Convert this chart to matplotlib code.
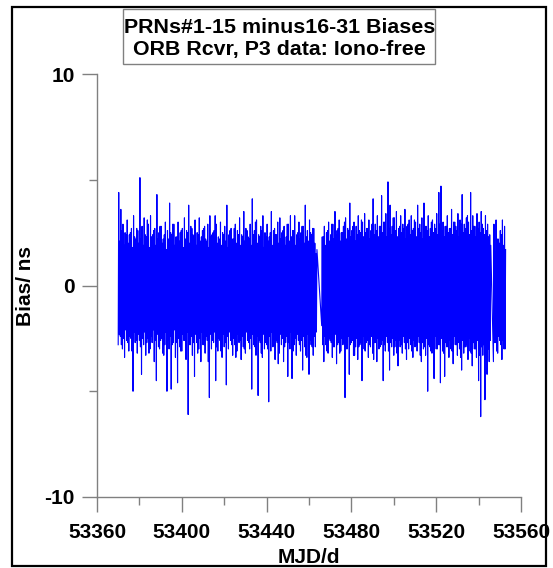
import numpy as np
import matplotlib
matplotlib.use("Agg")
import matplotlib.pyplot as plt
from matplotlib.patches import Rectangle

plt.rcParams['font.family'] = ['Liberation Sans', 'DejaVu Sans']
plt.rcParams['font.weight'] = 'bold'
plt.rcParams['axes.unicode_minus'] = False
plt.rcParams['path.simplify'] = False

# bias peaks (ns): two up/down swings per day
# segment A: MJD 53370 .. 53463
seg_a_start = 53370
seg_a_hi = [4.4, 3.6, 2.9, 2.5, 3.1, 2.4, 2.7, 3.3, 2.2, 2.6,
            5.1, 2.8, 3.2, 2.3, 2.9, 3.3, 2.4, 2.7, 4.3, 2.5,
            2.8, 2.2, 3.0, 2.6, 3.9, 2.4, 2.9, 2.3, 3.0, 2.5,
            2.7, 3.2, 2.6, 3.8, 2.8, 2.4, 3.1, 2.5, 3.2, 2.3,
            2.7, 2.2, 2.9, 3.3, 2.4, 2.6, 2.9, 2.3, 3.0, 2.5,
            2.8, 3.8, 2.4, 2.7, 2.2, 2.9, 2.6, 3.2, 2.4, 3.5,
            2.7, 2.3, 2.9, 4.1, 2.6, 3.1, 2.4, 2.8, 3.3, 2.5,
            2.9, 2.3, 3.5, 2.6, 2.4, 3.0, 3.2, 2.5, 2.8, 2.3,
            2.9, 3.3, 2.6, 3.3, 2.4, 3.0, 2.5, 2.8, 3.8, 2.6,
            3.1, 2.4, 2.7, 1.5]
seg_a_lo = [-2.8, -2.4, -3.0, -3.4, -2.6, -3.1, -2.5, -5.0, -2.7, -3.2,
            -2.6, -4.2, -2.8, -3.3, -2.5, -3.0, -2.7, -3.6, -4.5, -2.9,
            -2.6, -3.2, -2.8, -5.0, -3.0, -4.9, -2.7, -3.4, -4.6, -2.9,
            -3.1, -2.6, -3.5, -6.1, -2.8, -3.3, -4.3, -2.7, -3.0, -3.6,
            -2.8, -3.2, -2.6, -5.3, -3.0, -2.7, -4.5, -3.1, -2.6, -3.4,
            -2.9, -4.7, -3.0, -2.6, -3.3, -2.8, -3.1, -2.7, -3.5, -2.9,
            -3.2, -2.6, -3.0, -4.9, -2.8, -3.3, -5.2, -2.7, -3.4, -3.0,
            -2.8, -5.5, -3.1, -2.9, -3.5, -2.7, -3.2, -2.8, -3.6, -2.7,
            -4.3, -3.0, -4.4, -2.8, -3.3, -2.6, -3.1, -4.0, -2.9, -3.4,
            -4.2, -2.8, -3.3, -2.9]
seg_a_hi2 = [2.1, 2.6, 1.9, 2.4, 2.0, 2.5, 1.8, 2.3, 2.7, 2.0,
             2.2, 1.9, 2.4, 3.1, 1.8, 2.3, 2.6, 1.9, 2.2, 2.8,
             2.0, 2.4, 1.7, 2.2, 2.5, 2.9, 1.9, 2.3, 2.1, 2.6,
             1.8, 2.2, 2.5, 2.0, 2.7, 2.3, 1.9, 2.4, 2.1, 2.6,
             2.8, 2.1, 1.8, 2.3, 2.5, 3.3, 2.0, 2.2, 1.9, 2.4,
             2.1, 1.8, 2.6, 2.2, 2.7, 2.0, 2.4, 1.9, 2.3, 2.1,
             2.6, 2.2, 1.9, 2.4, 3.0, 2.0, 2.3, 2.6, 1.8, 2.3,
             2.1, 2.5, 1.9, 2.7, 2.4, 2.0, 2.2, 2.6, 1.9, 2.9,
             2.1, 2.3, 2.6, 1.9, 2.5, 2.2, 2.8, 2.0, 2.3, 2.1,
             2.5, 2.7, 2.0, 1.7]
seg_a_lo2 = [-2.3, -2.8, -2.5, -2.1, -2.7, -2.4, -3.1, -2.2, -2.6, -2.3,
             -2.9, -2.5, -2.2, -2.7, -3.2, -2.4, -2.1, -2.6, -2.3, -3.0,
             -2.5, -3.3, -2.2, -2.6, -2.4, -2.8, -2.1, -2.7, -2.5, -3.1,
             -2.3, -2.6, -2.2, -2.8, -2.4, -2.7, -2.3, -3.2, -2.5, -2.2,
             -2.8, -2.4, -3.6, -2.3, -2.6, -2.2, -2.9, -2.5, -3.1, -2.3,
             -2.7, -2.4, -2.2, -2.8, -2.5, -3.4, -2.3, -2.6, -2.4, -3.0,
             -2.2, -2.7, -2.5, -2.3, -2.9, -2.4, -2.6, -3.2, -2.3, -2.7,
             -3.0, -2.4, -2.2, -2.8, -2.6, -3.7, -2.3, -2.5, -2.9, -2.4,
             -2.7, -2.2, -3.1, -2.5, -2.3, -2.8, -2.6, -2.4, -3.3, -2.3,
             -2.6, -2.9, -2.4, -2.2]

# segment B: MJD 53466 .. 53545
seg_b_start = 53466
seg_b_hi = [2.3, 2.8, 2.5, 3.0, 2.4, 2.9, 3.5, 2.6, 3.1, 2.5,
            2.8, 3.2, 2.7, 3.9, 2.6, 3.0, 2.8, 3.3, 2.5, 3.0,
            3.4, 2.7, 3.1, 2.6, 4.1, 2.9, 3.3, 2.8, 4.25, 3.0,
            3.4, 4.9, 3.8, 2.8, 3.2, 3.5, 2.7, 3.3, 2.9, 3.6,
            2.8, 3.1, 3.3, 2.7, 3.0, 3.8, 2.9, 3.2, 3.9, 2.8,
            3.3, 2.7, 3.1, 2.9, 3.4, 4.4, 4.7, 3.0, 2.8, 3.3,
            2.7, 3.6, 3.0, 2.8, 3.4, 3.1, 4.3, 2.9, 3.2, 3.0,
            4.4, 3.3, 2.8, 3.4, 3.0, 3.5, 2.7, 3.3, 2.9, 2.4]
seg_b_lo = [-1.9, -3.6, -2.8, -3.2, -2.6, -3.4, -2.9, -3.7, -2.7, -3.1,
            -2.8, -5.3, -3.0, -4.2, -2.7, -3.3, -2.9, -3.5, -2.8, -4.5,
            -3.0, -2.7, -3.4, -2.9, -3.2, -2.7, -3.6, -3.0, -2.8, -4.5,
            -3.1, -2.7, -4.0, -2.9, -3.3, -2.6, -3.8, -2.9, -3.2, -2.7,
            -3.5, -3.0, -2.8, -3.4, -2.9, -3.1, -2.7, -3.6, -3.0, -3.3,
            -5.0, -2.9, -3.2, -4.4, -3.0, -2.8, -4.6, -3.1, -4.3, -2.9,
            -3.4, -3.0, -3.7, -2.8, -3.3, -3.0, -4.0, -3.2, -2.9, -3.5,
            -3.1, -3.8, -3.0, -3.4, -4.5, -6.2, -3.3, -5.4, -4.2, -3.6]
seg_b_hi2 = [2.3, 1.9, 2.6, 2.1, 2.9, 2.2, 2.4, 2.7, 2.1, 2.5,
             3.0, 2.2, 2.6, 2.3, 2.8, 2.1, 2.4, 2.6, 3.1, 2.3,
             2.5, 2.7, 2.2, 2.9, 2.4, 2.6, 2.3, 2.8, 2.5, 3.0,
             2.3, 2.7, 2.4, 3.2, 2.6, 2.3, 2.8, 2.5, 2.7, 2.2,
             2.9, 2.4, 2.6, 3.1, 2.3, 2.7, 2.5, 2.2, 2.8, 2.6,
             2.3, 3.0, 2.5, 2.7, 2.4, 2.9, 2.6, 2.3, 2.8, 2.5,
             2.7, 2.4, 3.0, 2.6, 2.3, 2.9, 2.5, 2.7, 3.3, 2.4,
             2.6, 2.8, 2.3, 2.7, 2.5, 2.9, 2.4, 2.6, 2.3, 1.9]
seg_b_lo2 = [-2.8, -2.4, -3.1, -2.5, -2.7, -2.9, -2.3, -2.8, -3.2, -2.5,
             -2.7, -3.0, -2.4, -2.8, -2.6, -3.3, -2.5, -2.9, -2.7, -2.4,
             -3.1, -2.6, -2.8, -2.4, -3.5, -2.7, -2.5, -2.9, -2.6, -2.8,
             -2.4, -3.1, -2.7, -2.5, -2.9, -3.2, -2.6, -2.8, -2.4, -3.0,
             -2.7, -2.5, -3.1, -2.6, -2.8, -2.4, -3.3, -2.7, -2.9, -2.5,
             -2.8, -3.1, -2.6, -2.4, -3.0, -2.8, -2.5, -3.2, -2.7, -2.9,
             -2.6, -3.1, -2.4, -2.8, -2.7, -3.4, -2.6, -2.9, -2.8, -2.5,
             -3.2, -2.7, -3.0, -2.6, -3.3, -2.9, -2.8, -3.4, -3.0, -2.6]

# segment C: MJD 53547 .. 53552
seg_c_start = 53547
seg_c_hi = [2.9, 3.1, 2.2, 2.6, 3.1, 2.8]
seg_c_lo = [-3.6, -2.7, -3.2, -2.6, -3.5, -3.0]
seg_c_hi2 = [1.6, 2.2, 2.0, 2.4, 1.9, 1.7]
seg_c_lo2 = [-2.7, -3.1, -2.4, -2.8, -2.6, -3.0]

x_ticks = [53360, 53400, 53440, 53480, 53520, 53560]
y_ticks = [-10, 0, 10]


def zigzag(start, lo, hi, lo2, hi2):
    days = start + np.arange(len(hi))
    x = np.column_stack([days, days + 0.25, days + 0.5, days + 0.75]).ravel()
    y = np.column_stack([lo, hi, lo2, hi2]).ravel()
    return x, y


segs = [zigzag(seg_a_start, seg_a_lo, seg_a_hi, seg_a_lo2, seg_a_hi2),
        zigzag(seg_b_start, seg_b_lo, seg_b_hi, seg_b_lo2, seg_b_hi2),
        zigzag(seg_c_start, seg_c_lo, seg_c_hi, seg_c_lo2, seg_c_hi2)]
mjd = np.concatenate([s[0] for s in segs])
bias = np.concatenate([s[1] for s in segs])

fig = plt.figure(figsize=(5.53, 5.68), dpi=100)
ax = fig.add_axes([0.1754, 0.125, 0.7667, 0.7447])

ax.plot(mjd, bias, color='#0000ff', lw=0.8)

ax.set_xlim(53360, 53560)
ax.set_ylim(-10, 10)
ax.set_xticks(x_ticks)
ax.set_xticks([53380, 53420, 53460, 53500, 53540], minor=True)
ax.set_yticks(y_ticks)
ax.set_yticks([-5, 5], minor=True)

for side in ['top', 'right']:
    ax.spines[side].set_visible(False)
for side in ['left', 'bottom']:
    ax.spines[side].set_color('#808080')
    ax.spines[side].set_linewidth(1.0)

ax.tick_params(which='major', length=11, width=1.0, color='#808080',
               labelsize=15)
ax.tick_params(which='minor', length=5.5, width=1.0, color='#808080')
ax.tick_params(axis='x', which='major', pad=8)
ax.tick_params(axis='y', which='major', pad=5)

ax.set_xlabel('MJD/d', fontsize=15, fontweight='bold', va='center')
ax.xaxis.set_label_coords(0.5, -0.142)
ax.set_ylabel('Bias/ ns', fontsize=15, fontweight='bold', va='center')
ax.yaxis.set_label_coords(-0.168, 0.5)

# title box
fig.add_artist(Rectangle((123 / 553, 504 / 568), 312 / 553, 55 / 568,
                         transform=fig.transFigure, facecolor='white',
                         edgecolor='#808080', linewidth=1.0))
fig.text(0.505, 535 / 568, 'PRNs#1-15 minus16-31 Biases', ha='center',
         va='baseline', fontsize=15.4, fontweight='bold')
fig.text(0.505, 513 / 568, 'ORB Rcvr, P3 data: Iono-free', ha='center',
         va='baseline', fontsize=15.4, fontweight='bold')

# outer frame
fig.add_artist(Rectangle((12 / 553, 2 / 568), 534 / 553, 559 / 568,
                         transform=fig.transFigure, fill=False,
                         edgecolor='black', linewidth=1.6))

fig.savefig('out.png', dpi=100)
